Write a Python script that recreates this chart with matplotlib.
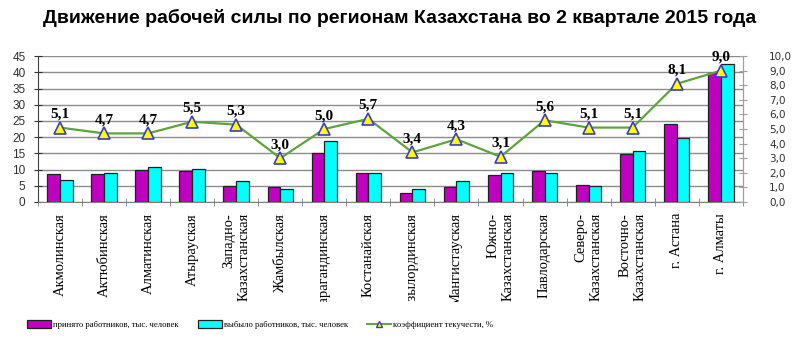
import matplotlib.pyplot as plt
import numpy as np
from matplotlib.lines import Line2D
from matplotlib.patches import Patch
from matplotlib.transforms import Bbox

regions = [
    "Акмолинская", "Актюбинская", "Алматинская", "Атырауская",
    "Западно-\nКазахстанская", "Жамбылская", "Карагандинская", "Костанайская",
    "Кызылординская", "Мангистауская", "Южно-\nКазахстанская", "Павлодарская",
    "Северо-\nКазахстанская", "Восточно-\nКазахстанская", "г. Астана", "г. Алматы",
]
hired = [8.6, 8.6, 10.0, 9.6, 5.0, 4.7, 15.1, 9.0, 2.9, 4.5, 8.2, 9.4, 5.3, 14.8, 24.2, 39.8]
left = [6.7, 9.0, 10.7, 10.3, 6.6, 4.1, 18.9, 9.0, 4.1, 6.6, 9.0, 9.0, 4.9, 15.6, 19.7, 42.6]
turnover = [5.1, 4.7, 4.7, 5.5, 5.3, 3.0, 5.0, 5.7, 3.4, 4.3, 3.1, 5.6, 5.1, 5.1, 8.1, 9.0]

magenta = "#c000c0"
cyan = "#00ffff"
green = "#5ea33c"
serif = "Liberation Serif"

fig = plt.figure(figsize=(8, 3.4), dpi=100)
ax = fig.add_axes([0.0475, 0.406, 0.881, 0.429])
x = np.arange(len(regions))
w = 0.29

ax.bar(x - w / 2, hired, w, color=magenta, edgecolor="#202020", linewidth=0.9, zorder=3)
ax.bar(x + w / 2, left, w, color=cyan, edgecolor="#202020", linewidth=0.9, zorder=3)

ax.set_xlim(-0.5, len(regions) - 0.5)
ax.set_ylim(0, 45)
ax.set_yticks(range(0, 46, 5))
ax.yaxis.grid(True, color="#8c8c8c", linewidth=1.0)
ax.set_axisbelow(True)
ax.spines["top"].set_visible(False)
ax.spines["right"].set_color("#a0a0a0")
ax.spines["left"].set_color("#404040")
ax.spines["bottom"].set_color("#808080")
ax.tick_params(axis="y", direction="inout", length=6, labelsize=8.5, pad=6, colors="#303030")
for t in ax.get_yticklabels():
    t.set_family("Liberation Sans")

# category labels at centers, tick marks at boundaries
ax.set_xticks(x)
ax.set_xticklabels(regions, rotation=90, va="top", ha="center", multialignment="right",
                   family=serif, fontsize=10.5)
ax.set_xticks(np.arange(-0.5, len(regions), 1), minor=True)
ax.tick_params(axis="x", which="major", length=0, pad=8)
ax.tick_params(axis="x", which="minor", direction="inout", length=6, color="#808080")

# long names are cut off above the legend row
clip = Bbox.from_extents(0, 38, 800, 340)
for t in ax.get_xticklabels():
    t.set_clip_box(clip)
    t.set_clip_on(True)

ax2 = ax.twinx()
ax2.set_ylim(0, 10)
ax2.set_yticks(np.arange(0, 10.1, 1))
ax2.set_yticklabels([f"{v:.1f}".replace(".", ",") for v in np.arange(0, 10.1, 1)],
                    family="DejaVu Sans", fontsize=7.5, color="#303030")
ax2.tick_params(axis="y", direction="inout", length=6, pad=16, color="#a0a0a0")
for s in ["top", "left", "bottom"]:
    ax2.spines[s].set_visible(False)
ax2.spines["right"].set_color("#a0a0a0")

ax2.plot(x, turnover, color=green, linewidth=1.6, marker="^", markersize=8,
         markerfacecolor="#ffff00", markeredgecolor="#3a3acc", markeredgewidth=1.2, zorder=4)
for xi, v in zip(x, turnover):
    ax2.annotate(f"{v:.1f}".replace(".", ","), (xi, v), xytext=(0, 5), textcoords="offset points",
                 ha="center", va="bottom", family=serif, fontweight="bold", fontsize=11)

fig.text(0.5, 0.948, "Движение рабочей силы по регионам Казахстана во 2 квартале 2015 года",
         ha="center", va="center", family="Liberation Sans", fontweight="bold", fontsize=14)

handles = [
    Patch(facecolor=magenta, edgecolor="#202020", linewidth=0.9),
    Patch(facecolor=cyan, edgecolor="#202020", linewidth=0.9),
    Line2D([], [], color=green, linewidth=1.4, marker="^", markersize=5,
           markerfacecolor="#ffff00", markeredgecolor="#3a3acc"),
]
labels = ["принято работников, тыс. человек", "выбыло работников, тыс. человек",
          "коэффициент текучести, %"]
fig.legend(handles, labels, loc="center left", bbox_to_anchor=(0.028, 0.045), ncol=3,
           frameon=False, prop={"family": serif, "size": 6.2}, handlelength=2.8,
           handleheight=1.0, columnspacing=2.2, handletextpad=0.25, borderpad=0)

fig.savefig("out.png", dpi=100)
